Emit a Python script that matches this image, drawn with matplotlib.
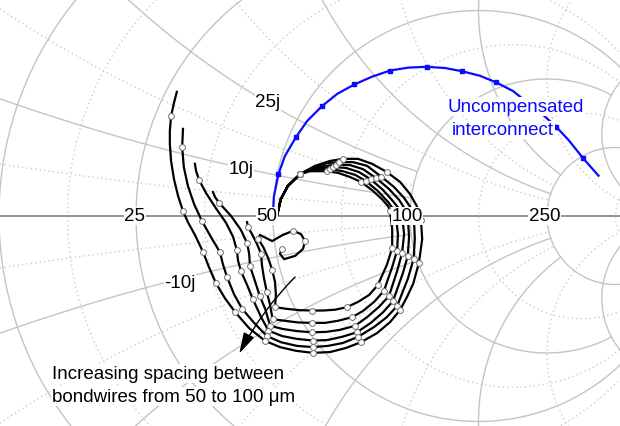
import numpy as np
import matplotlib
matplotlib.use("Agg")
import matplotlib.pyplot as plt

plt.rcParams['font.family'] = ['Liberation Sans', 'DejaVu Sans']

# Smith chart grid values (normalised to 50 ohm)
major_vals = [0.2, 0.5, 1.0, 2.0, 5.0]
r_major_lim = [1.0, 2.0, 5.0, 5.0, 30.0]
x_major_lim = [2.0, 2.0, 5.0, 5.0, 30.0]
minor_vals = [1/11, 1/3, 5/7, 7/5, 3.0, 11.0]
r_minor_lim = [1.0, 2.0, 5.0, 5.0, 30.0, 30.0]
x_minor_lim = [2.0, 2.0, 5.0, 5.0, 30.0, 30.0]

# Uncompensated interconnect, reflection coefficient (re, im)
unc_re = [0.000, 0.002, 0.013, 0.029, 0.056, 0.083, 0.119, 0.156, 0.198, 0.241,
          0.285, 0.329, 0.374, 0.419, 0.461, 0.504, 0.543, 0.584, 0.618, 0.655,
          0.689, 0.719, 0.755, 0.792]
unc_im = [0.000, 0.046, 0.101, 0.146, 0.192, 0.231, 0.267, 0.297, 0.320, 0.339,
          0.354, 0.361, 0.363, 0.360, 0.352, 0.341, 0.325, 0.304, 0.277, 0.248,
          0.217, 0.185, 0.140, 0.098]
unc_marks = [2, 4, 6, 8, 10, 12, 14, 16, 18, 20, 22]

# Compensated interconnect for bondwire spacings 50 ... 100 um
# (all sweeps start together at 50 ohm)
head_re = [0.010, 0.019, 0.036, 0.066]
head_im = [0.002, 0.041, 0.073, 0.102]

s100_re = [0.102, 0.139, 0.170, 0.207, 0.241, 0.277, 0.309, 0.333, 0.350, 0.360,
           0.363, 0.355, 0.341, 0.326, 0.309, 0.285, 0.253, 0.214, 0.178, 0.139,
           0.097, 0.056, 0.017, -0.019, -0.058, -0.092, -0.117, -0.139, -0.156, -0.170,
           -0.190, -0.207, -0.219, -0.231, -0.241, -0.248, -0.251, -0.251, -0.248, -0.241,
           -0.234]
s100_im = [0.122, 0.134, 0.139, 0.139, 0.127, 0.107, 0.083, 0.054, 0.024, -0.010,
           -0.056, -0.114, -0.165, -0.197, -0.229, -0.258, -0.285, -0.307, -0.321, -0.331,
           -0.333, -0.328, -0.319, -0.304, -0.273, -0.234, -0.200, -0.163, -0.124, -0.088,
           -0.046, -0.015, 0.012, 0.049, 0.090, 0.134, 0.175, 0.207, 0.243, 0.275,
           0.302]
s100_marks = [2, 5, 9, 11, 14, 17, 20, 23, 25, 27, 29, 32, 38]

s90_re = [0.100, 0.131, 0.161, 0.195, 0.229, 0.263, 0.294, 0.319, 0.336, 0.343,
          0.345, 0.342, 0.328, 0.302, 0.277, 0.246, 0.207, 0.170, 0.134, 0.097,
          0.058, 0.019, -0.015, -0.046, -0.075, -0.095, -0.112, -0.122, -0.129, -0.151,
          -0.173, -0.192, -0.207, -0.217, -0.221, -0.219]
s90_im = [0.119, 0.129, 0.131, 0.131, 0.122, 0.096, 0.071, 0.044, 0.019, -0.007,
          -0.056, -0.105, -0.153, -0.219, -0.246, -0.270, -0.294, -0.309, -0.316, -0.319,
          -0.316, -0.307, -0.292, -0.260, -0.226, -0.190, -0.148, -0.117, -0.088, -0.051,
          -0.012, 0.029, 0.073, 0.119, 0.168, 0.212]
s90_marks = [2, 5, 9, 11, 13, 16, 19, 22, 24, 26, 28, 30, 34]

s80_re = [0.097, 0.127, 0.153, 0.187, 0.219, 0.251, 0.282, 0.307, 0.321, 0.328,
          0.331, 0.328, 0.316, 0.292, 0.268, 0.238, 0.204, 0.168, 0.131, 0.097,
          0.058, 0.022, -0.011, -0.029, -0.049, -0.063, -0.078, -0.085, -0.088, -0.097,
          -0.114, -0.139, -0.163, -0.180, -0.187, -0.190]
s80_im = [0.117, 0.122, 0.125, 0.124, 0.114, 0.092, 0.066, 0.039, 0.017, -0.002,
          -0.051, -0.097, -0.139, -0.207, -0.234, -0.260, -0.283, -0.294, -0.302, -0.303,
          -0.299, -0.292, -0.279, -0.246, -0.202, -0.168, -0.134, -0.109, -0.083, -0.051,
          -0.017, 0.019, 0.056, 0.088, 0.109, 0.127]
s80_marks = [2, 5, 9, 11, 13, 16, 19, 22, 24, 26, 28, 33]

s70_re = [0.095, 0.122, 0.146, 0.178, 0.209, 0.238, 0.268, 0.292, 0.307, 0.314,
          0.319, 0.314, 0.302, 0.282, 0.258, 0.229, 0.200, 0.163, 0.129, 0.096,
          0.058, 0.024, -0.007, -0.019, -0.032, -0.044, -0.056, -0.058, -0.063, -0.078,
          -0.102, -0.131, -0.141, -0.146]
s70_im = [0.114, 0.117, 0.119, 0.117, 0.107, 0.089, 0.063, 0.036, 0.017, 0.002,
          -0.044, -0.090, -0.134, -0.195, -0.221, -0.246, -0.267, -0.277, -0.282, -0.283,
          -0.280, -0.275, -0.267, -0.226, -0.195, -0.158, -0.122, -0.092, -0.066, -0.034,
          0.000, 0.032, 0.046, 0.058]
s70_marks = [2, 5, 9, 11, 13, 16, 19, 22, 24, 26, 28, 31]

s60_re = [0.092, 0.114, 0.139, 0.170, 0.200, 0.226, 0.255, 0.280, 0.294, 0.299,
          0.304, 0.302, 0.290, 0.270, 0.246, 0.219, 0.193, 0.158, 0.127, 0.094,
          0.061, 0.029, -0.001, -0.007, -0.015, -0.022, -0.027, -0.029, -0.039, -0.051,
          -0.061, -0.063]
s60_im = [0.112, 0.114, 0.114, 0.109, 0.100, 0.085, 0.061, 0.034, 0.015, -0.002,
          -0.044, -0.084, -0.124, -0.182, -0.209, -0.231, -0.246, -0.255, -0.260, -0.260,
          -0.259, -0.255, -0.251, -0.217, -0.185, -0.151, -0.119, -0.092, -0.068, -0.044,
          -0.027, -0.015]
s60_marks = [2, 5, 9, 11, 13, 16, 19, 22, 24, 27, 30]

s50_re = [0.090, 0.109, 0.131, 0.158, 0.187, 0.214, 0.241, 0.265, 0.280, 0.285,
          0.290, 0.290, 0.277, 0.255, 0.234, 0.207, 0.179, 0.151, 0.122, 0.094,
          0.063, 0.034, 0.005, 0.007, 0.005, -0.002, -0.012, -0.024, -0.036, -0.032,
          -0.002, 0.024, 0.049, 0.068, 0.078, 0.073, 0.054, 0.027, 0.017, 0.022]
s50_im = [0.109, 0.109, 0.109, 0.105, 0.095, 0.083, 0.063, 0.041, 0.024, 0.012,
          -0.032, -0.078, -0.119, -0.168, -0.192, -0.209, -0.222, -0.228, -0.230, -0.230,
          -0.229, -0.226, -0.222, -0.192, -0.161, -0.131, -0.102, -0.075, -0.056, -0.046,
          -0.061, -0.046, -0.036, -0.044, -0.061, -0.080, -0.097, -0.105, -0.092, -0.080]
s50_marks = [2, 5, 9, 11, 13, 16, 19, 22, 25, 28, 32, 34, 39]

sweeps = [(s50_re, s50_im, s50_marks), (s60_re, s60_im, s60_marks),
          (s70_re, s70_im, s70_marks), (s80_re, s80_im, s80_marks),
          (s90_re, s90_im, s90_marks), (s100_re, s100_im, s100_marks)]

GRID = '#c4c4c4'
MINOR = '#cccccc'


def gamma(z):
    return (z - 1) / (z + 1)


def r_circle(r, lim, n=3000):
    t = np.linspace(-np.arctan(lim), np.arctan(lim), n)
    return gamma(r + 1j * np.tan(t))


def x_arc(x, lim, n=3000):
    t = np.linspace(0, np.arctan(lim), n)
    return gamma(np.tan(t) + 1j * x)


fig = plt.figure(figsize=(6.2, 4.27), dpi=100)
ax = fig.add_axes([0, 0, 1, 1])
ax.set_xlim(-273 / 411, 347 / 411)
ax.set_ylim(-210 / 411, 217 / 411)
ax.axis('off')

for v, lr, lx in zip(minor_vals, r_minor_lim, x_minor_lim):
    g = r_circle(v, lr)
    ax.plot(g.real, g.imag, color=MINOR, lw=1.0, ls=(0, (1, 2.2)), zorder=1)
    for s in (1, -1):
        g = x_arc(s * v, lx)
        ax.plot(g.real, g.imag, color=MINOR, lw=1.0, ls=(0, (1, 2.2)), zorder=1)

for v, lr, lx in zip(major_vals, r_major_lim, x_major_lim):
    g = r_circle(v, lr)
    ax.plot(g.real, g.imag, color=GRID, lw=1.0, zorder=2)
    for s in (1, -1):
        g = x_arc(s * v, lx)
        ax.plot(g.real, g.imag, color=GRID, lw=1.0, zorder=2)

ax.plot([-1, 1], [0, 0], color='#8a8a8a', lw=1.3, zorder=2)

# compensated sweeps
for sre, sim, marks in sweeps:
    re = head_re + sre
    im = head_im + sim
    ax.plot(re, im, color='black', lw=1.6, zorder=4, solid_joinstyle='round')
    idx = [3] + [len(head_re) + i for i in marks]
    ax.plot([re[i] for i in idx], [im[i] for i in idx], 'o', mfc='white',
            mec='#707070', mew=0.7, ms=4.2, zorder=5)

# uncompensated trace
ax.plot(unc_re, unc_im, color='#0a0aff', lw=1.6, zorder=4)
ax.plot([unc_re[i] for i in unc_marks], [unc_im[i] for i in unc_marks], 's',
        color='#0a0aff', ms=3.5, zorder=5)

box = dict(facecolor='white', edgecolor='none', pad=0.5)
lab = dict(fontsize=13.5, ha='center', va='center', bbox=box, zorder=6)
ax.text(-0.3358, 0.0, '25', **lab)
ax.text(-0.0146, 0.0, '50', **lab)
ax.text(0.3260, 0.0, '100', **lab)
ax.text(0.6618, 0.0, '250', **lab)
ax.text(-0.0122, 0.2774, '25j', **lab)
ax.text(-0.0779, 0.1144, '10j', **lab)
ax.text(-0.2263, -0.1606, '-10j', **lab)

ax.text(0.4234, 0.2555, 'Uncompensated', color='#0a0aff', fontsize=13.5,
        ha='left', va='baseline', bbox=box, zorder=6)
ax.text(0.4355, 0.1983, 'interconnect', color='#0a0aff', fontsize=13.5,
        ha='left', va='baseline', bbox=box, zorder=6)
ax.text(-0.5377, -0.3942, 'Increasing spacing between', fontsize=13.5,
        ha='left', va='baseline', bbox=box, zorder=6)
ax.text(-0.5377, -0.4501, 'bondwires from 50 to 100 \u03bcm', fontsize=13.5,
        ha='left', va='baseline', bbox=box, zorder=6)

ax.annotate('', xy=(-0.0852, -0.3406), xytext=(0.0584, -0.1436),
            arrowprops=dict(arrowstyle='-|>,head_length=0.8,head_width=0.22',
                            color='black', lw=1.0, mutation_scale=16,
                            connectionstyle='arc3,rad=0.08'),
            zorder=6)

fig.savefig('out.png', dpi=100)
